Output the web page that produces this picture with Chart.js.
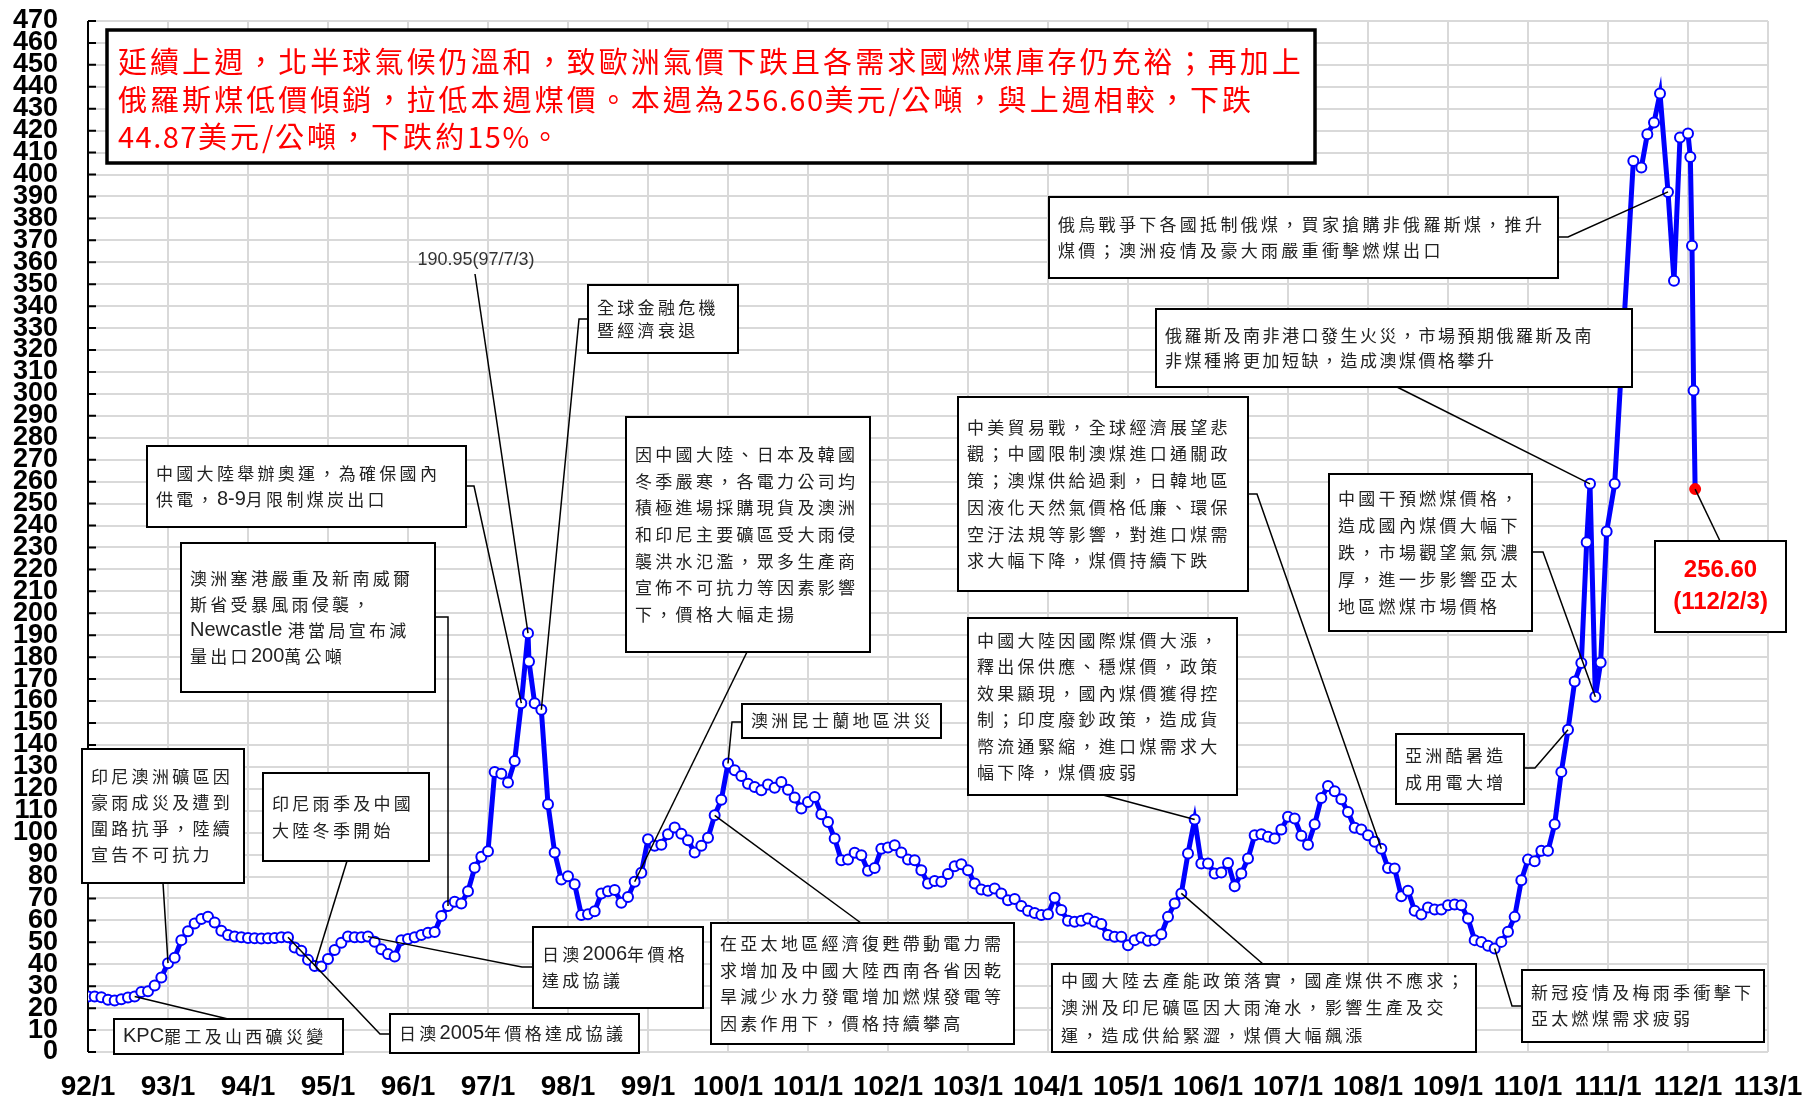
<!DOCTYPE html>
<html>
<head>
<meta charset="utf-8">
<script src="https://cdn.jsdelivr.net/npm/chart.js@4.4.0/dist/chart.umd.min.js"></script>
<style>
  body { margin: 0; background: #fff; }
  #wrap { width: 1806px; height: 1099px; }
</style>
</head>
<body>
<div id="wrap"><canvas id="coal"></canvas></div>
<script>
// x axis: months counted from 92/1
const yearLabels = ['92/1','93/1','94/1','95/1','96/1','97/1','98/1','99/1','100/1','101/1','102/1',
  '103/1','104/1','105/1','106/1','107/1','108/1','109/1','110/1','111/1','112/1','113/1'];

// monthly price (US$/ton), 92/1 .. 110/9
const monthlyPrices = [
  25.3, 25.3, 25.0, 23.8, 23.5, 24.0, 24.8, 25.3, 27.3, 27.7, 30.3, 34.0,        // 92
  40.5, 43.0, 51.0, 55.0, 58.6, 60.6, 61.7, 59.0, 55.3, 53.3, 52.6, 52.3,        // 93
  52.0, 51.8, 51.7, 51.8, 52.0, 52.3, 52.3, 47.6, 46.2, 42.0, 39.2, 39.0,        // 94
  42.4, 46.5, 49.8, 52.6, 52.3, 52.3, 52.6, 50.3, 46.8, 44.7, 43.5, 51.0,        // 95
  51.5, 52.3, 53.3, 54.4, 54.7, 62.0, 66.5, 68.5, 67.7, 73.3, 84.0, 89.0,        // 96
  91.5, 127.6, 126.9, 122.8, 132.7, 159.0, 190.95, 159.0, 156.0, 112.9, 90.9, 78.6, // 97
  80.1, 76.5, 62.4, 62.8, 64.2, 72.3, 73.3, 73.8, 68.0, 70.7, 77.6, 81.7,        // 98
  97.0, 94.0, 94.5, 99.3, 102.3, 99.5, 96.5, 90.9, 94.0, 97.7, 107.9, 115.0,     // 99
  131.5, 128.4, 125.8, 122.3, 120.8, 119.3, 121.9, 120.5, 123.1, 119.6, 116.0, 111.0, // 100
  114.0, 116.3, 108.4, 104.9, 97.3, 87.4, 87.7, 90.8, 89.7, 82.6, 83.9, 92.7,    // 101
  93.2, 94.3, 90.9, 87.7, 87.4, 82.9, 76.8, 78.0, 77.6, 81.1, 84.7, 85.6,        // 102
  82.9, 76.8, 74.1, 73.5, 74.5, 72.3, 69.2, 69.7, 66.6, 64.4, 63.4, 62.4,        // 103
  62.8, 70.3, 64.7, 59.8, 59.4, 59.8, 60.9, 59.4, 58.3, 53.3, 52.5, 52.5,        // 104
  48.7, 51.0, 52.2, 50.7, 51.0, 53.7, 61.6, 67.7, 72.3, 90.5, 106.0, 85.9,       // 105
  85.9, 81.4, 81.8, 86.2, 75.6, 81.4, 88.2, 98.8, 99.3, 98.1, 97.3, 101.4,       // 106
  107.2, 106.4, 98.6, 94.5, 103.8, 115.8, 121.3, 118.9, 115.2, 109.4, 102.2, 101.4, // 107
  98.8, 95.8, 92.7, 83.9, 83.6, 71.0, 73.5, 64.4, 62.7, 65.9, 65.0, 65.0,        // 108
  66.9, 67.2, 66.9, 60.9, 51.0, 50.2, 48.4, 47.2, 50.2, 54.8, 61.6, 78.3,        // 109
  87.7, 87.0, 91.7, 91.7, 103.8, 127.7, 146.9, 168.9, 177.3                      // 110
];

// readings between month starts (weekly quotes), position in months from 92/1
const weeklyPos = [66.15, 224.8, 225.3, 226.1, 226.9, 227.8, 229.0, 231.8, 233.0, 233.9,
  234.9, 235.8, 237.0, 237.9, 238.8, 240.0, 240.35, 240.6, 240.84];
const weeklyPrices = [178.0, 232.4, 259.0, 162.0, 177.6, 237.3, 259.0, 406.2, 403.2, 418.4,
  423.7, 436.9, 392.1, 351.6, 416.9, 418.7, 408.0, 367.5, 301.5];

// this week (112/2/3)
const latestPos = [241.07];
const latestPrices = [256.6];

const points = monthlyPrices.map((v, i) => ({ x: i, y: v }))
  .concat(weeklyPos.map((p, i) => ({ x: p, y: weeklyPrices[i] })))
  .concat(latestPos.map((p, i) => ({ x: p, y: latestPrices[i] })))
  .sort((a, b) => a.x - b.x);
const lastIdx = points.length - 1;

const priceTicks = [];
for (let v = 0; v <= 470; v += 10) priceTicks.push(v);

const title = [
  '延續上週，北半球氣候仍溫和，致歐洲氣價下跌且各需求國燃煤庫存仍充裕；再加上',
  '俄羅斯煤低價傾銷，拉低本週煤價。本週為256.60美元/公噸，與上週相較，下跌',
  '44.87美元/公噸，下跌約15%。'
];

// callout boxes: box = [left, top, right, bottom] in px, path = leader start/elbow, to = point position
const notes = [
  { lines: ['全球金融危機', '暨經濟衰退'], box: [588, 285, 738, 353], lh: 23.5, path: [[588, 319], [579, 319]], to: 68 },
  { lines: ['中國大陸舉辦奧運，為確保國內', '供電，8-9月限制煤炭出口'], box: [147, 446, 466, 527], lh: 26, path: [[466, 486], [474, 486]], to: 65 },
  { lines: ['澳洲塞港嚴重及新南威爾', '斯省受暴風雨侵襲，', 'Newcastle 港當局宣布減', '量出口200萬公噸'], box: [181, 543, 435, 692], lh: 25.8, path: [[435, 617], [448, 617]], to: 54 },
  { lines: ['印尼澳洲礦區因', '豪雨成災及遭到', '圍路抗爭，陸續', '宣告不可抗力'], box: [82, 749, 244, 883], lh: 26, path: [[163, 883]], to: 12 },
  { lines: ['印尼雨季及中國', '大陸冬季開始'], box: [263, 773, 429, 861], lh: 26.7, path: [[347, 861]], to: 34 },
  { lines: ['KPC罷工及山西礦災變'], box: [114, 1019, 343, 1054], lh: 26, path: [[228, 1019]], to: 7 },
  { lines: ['日澳2005年價格達成協議'], box: [390, 1014, 639, 1053], lh: 26, path: [[390, 1034], [380, 1034]], to: 30 },
  { lines: ['日澳2006年價格', '達成協議'], box: [533, 927, 703, 1008], lh: 26.7, path: [[533, 967], [522, 967]], to: 42 },
  { lines: ['因中國大陸、日本及韓國', '冬季嚴寒，各電力公司均', '積極進場採購現貨及澳洲', '和印尼主要礦區受大雨侵',
            '襲洪水氾濫，眾多生產商', '宣佈不可抗力等因素影響', '下，價格大幅走揚'], box: [626, 417, 870, 652], lh: 26.7, path: [[747, 652]], to: 82 },
  { lines: ['澳洲昆士蘭地區洪災'], box: [742, 704, 941, 738], lh: 26, path: [[742, 722], [732, 722]], to: 96 },
  { lines: ['在亞太地區經濟復甦帶動電力需', '求增加及中國大陸西南各省因乾', '旱減少水力發電增加燃煤發電等', '因素作用下，價格持續攀高'],
    box: [711, 923, 1014, 1044], lh: 26.7, path: [[861, 923]], to: 94 },
  { lines: ['中美貿易戰，全球經濟展望悲', '觀；中國限制澳煤進口通關政', '策；澳煤供給過剩，日韓地區', '因液化天然氣價格低廉、環保',
            '空汙法規等影響，對進口煤需', '求大幅下降，煤價持續下跌'], box: [958, 397, 1248, 591], lh: 26.7, path: [[1248, 494], [1257, 494]], to: 194 },
  { lines: ['中國大陸因國際煤價大漲，', '釋出保供應、穩煤價，政策', '效果顯現，國內煤價獲得控', '制；印度廢鈔政策，造成貨',
            '幣流通緊縮，進口煤需求大', '幅下降，煤價疲弱'], box: [968, 618, 1237, 795], lh: 26.5, path: [[1103, 795]], to: 166 },
  { lines: ['中國大陸去產能政策落實，國產煤供不應求；', '澳洲及印尼礦區因大雨淹水，影響生產及交', '運，造成供給緊澀，煤價大幅飆漲'],
    box: [1052, 964, 1476, 1052], lh: 27.5, path: [[1263, 964]], to: 164 },
  { lines: ['俄烏戰爭下各國抵制俄煤，買家搶購非俄羅斯煤，推升', '煤價；澳洲疫情及豪大雨嚴重衝擊燃煤出口'],
    box: [1049, 197, 1558, 278], lh: 26.7, path: [[1558, 237], [1568, 237]], to: 237.0 },
  { lines: ['俄羅斯及南非港口發生火災，市場預期俄羅斯及南', '非煤種將更加短缺，造成澳煤價格攀升'],
    box: [1156, 309, 1632, 387], lh: 25.7, gap: 2.5, path: [[1397, 387]], to: 225.3 },
  { lines: ['中國干預燃煤價格，', '造成國內煤價大幅下', '跌，市場觀望氣氛濃', '厚，進一步影響亞太', '地區燃煤市場價格'],
    box: [1329, 474, 1532, 631], lh: 27, path: [[1532, 552], [1543, 552]], to: 226.1 },
  { lines: ['亞洲酷暑造', '成用電大增'], box: [1396, 734, 1524, 804], lh: 26.3, path: [[1524, 768], [1535, 768]], to: 222 },
  { lines: ['新冠疫情及梅雨季衝擊下', '亞太燃煤需求疲弱'], box: [1522, 970, 1764, 1042], lh: 26, path: [[1522, 1006], [1512, 1006]], to: 211 },
  { lines: ['256.60', '(112/2/3)'], box: [1655, 541, 1786, 632], lh: 32, red: true, path: [[1720, 541]], to: 241.07 }
];

const peakLabel = { text: '190.95(97/7/3)', at: [476, 260], path: [[475, 274]], to: 66 };

const CJK = '"Noto Sans CJK TC", "Noto Sans CJK JP", sans-serif';
const LATIN = '"Liberation Sans", Arial, sans-serif';

function drawRun(ctx, str, x, y, st) {
  for (const ch of str) {
    const cjk = ch.charCodeAt(0) >= 0x2e80;
    ctx.font = cjk ? st.cjk : st.latin;
    ctx.fillText(ch, x, y);
    x += ctx.measureText(ch).width + (cjk ? st.gap : (st.latinGap || 0));
  }
}

function leader(ctx, path, el) {
  ctx.beginPath();
  ctx.moveTo(path[0][0], path[0][1]);
  path.slice(1).forEach(p => ctx.lineTo(p[0], p[1]));
  ctx.lineTo(el.x, el.y);
  ctx.stroke();
}

const notesPlugin = {
  id: 'coalNotes',
  beforeDatasetsDraw(chart) {
    const { ctx, chartArea: a, scales: { y } } = chart;
    ctx.save();
    ctx.strokeStyle = '#000';
    ctx.lineWidth = 2;
    ctx.beginPath();
    ctx.moveTo(a.left, a.top);
    ctx.lineTo(a.left, a.bottom);
    y.ticks.forEach(t => {
      const py = y.getPixelForValue(t.value);
      ctx.moveTo(a.left, py);
      ctx.lineTo(a.left + 8, py);
    });
    ctx.stroke();
    ctx.restore();
  },
  afterDatasetsDraw(chart) {
    const ctx = chart.ctx;
    const meta = chart.getDatasetMeta(0);
    const pointAt = pos => meta.data[points.findIndex(p => Math.abs(p.x - pos) < 1e-6)];
    ctx.save();

    // title box
    ctx.fillStyle = '#fff';
    ctx.fillRect(107, 30, 1208, 133);
    ctx.strokeStyle = '#000';
    ctx.lineWidth = 3.5;
    ctx.strokeRect(107, 30, 1208, 133);
    ctx.fillStyle = '#ff0000';
    ctx.textBaseline = 'middle';
    ctx.textAlign = 'left';
    const tst = { cjk: '29px ' + CJK, latin: '29px ' + CJK, gap: 3.05, latinGap: 1.5 };
    title.forEach((l, i) => drawRun(ctx, l, 118, 62 + i * 37.5, tst));

    // leader lines
    ctx.strokeStyle = '#000';
    ctx.lineWidth = 1.5;
    notes.forEach(n => leader(ctx, n.path, pointAt(n.to)));
    leader(ctx, peakLabel.path, pointAt(peakLabel.to));

    // boxes and text
    notes.forEach(n => {
      const [l, t, r, b] = n.box;
      ctx.fillStyle = '#fff';
      ctx.fillRect(l, t, r - l, b - t);
      ctx.strokeStyle = '#000';
      ctx.lineWidth = 2;
      ctx.strokeRect(l, t, r - l, b - t);
      const y0 = (t + b) / 2 - (n.lines.length - 1) * n.lh / 2;
      if (n.red) {
        ctx.fillStyle = '#ff0000';
        ctx.textAlign = 'center';
        ctx.font = 'bold 24px ' + LATIN;
        n.lines.forEach((s, i) => ctx.fillText(s, (l + r) / 2, y0 + i * n.lh));
        ctx.textAlign = 'left';
      } else {
        ctx.fillStyle = '#222';
        const st = { cjk: '17px ' + CJK, latin: '20px ' + LATIN, gap: n.gap !== undefined ? n.gap : 3.3 };
        n.lines.forEach((s, i) => drawRun(ctx, s, l + 9, y0 + i * n.lh, st));
      }
    });

    ctx.fillStyle = '#333';
    ctx.textAlign = 'center';
    ctx.font = '18px ' + LATIN;
    ctx.fillText(peakLabel.text, peakLabel.at[0], peakLabel.at[1]);
    ctx.restore();
  }
};

new Chart(document.getElementById('coal'), {
  type: 'line',
  data: {
    datasets: [{
      data: points,
      borderColor: '#0000ff',
      borderWidth: 5,
      tension: 0,
      pointRadius: 5,
      pointBorderWidth: 2,
      pointBackgroundColor: ctx => ctx.dataIndex === lastIdx ? '#ff0000' : '#ffffff',
      pointBorderColor: ctx => ctx.dataIndex === lastIdx ? '#ff0000' : '#0000ff'
    }]
  },
  options: {
    responsive: true,
    maintainAspectRatio: false,
    animation: false,
    devicePixelRatio: 1,
    layout: { padding: { left: 0, right: 38, top: 21, bottom: 0 } },
    plugins: { legend: { display: false }, tooltip: { enabled: false } },
    scales: {
      x: {
        type: 'linear',
        min: 0,
        max: (yearLabels.length - 1) * 12,
        afterBuildTicks: s => { s.ticks = yearLabels.map((_, i) => ({ value: i * 12 })); },
        afterFit: s => { s.height = 47; s.paddingLeft = 0; s.paddingRight = 0; },
        ticks: {
          autoSkip: false,
          maxRotation: 0,
          padding: 18,
          color: '#000',
          font: { family: 'Liberation Sans', size: 28, weight: 'bold' },
          callback: v => yearLabels[Math.round(v / 12)]
        },
        grid: { color: '#d9d9d9', lineWidth: 2, drawTicks: false },
        border: { display: false }
      },
      y: {
        min: 0,
        max: 470,
        afterBuildTicks: s => { s.ticks = priceTicks.map(v => ({ value: v })); },
        afterFit: s => { s.width = 88; s.paddingTop = 0; s.paddingBottom = 0; },
        ticks: {
          autoSkip: false,
          padding: 30,
          color: '#000',
          font: { family: 'Liberation Sans', size: 27, weight: 'bold' }
        },
        grid: { color: '#d9d9d9', lineWidth: 2, drawTicks: false },
        border: { display: false }
      }
    }
  },
  plugins: [notesPlugin]
});
</script>
</body>
</html>
